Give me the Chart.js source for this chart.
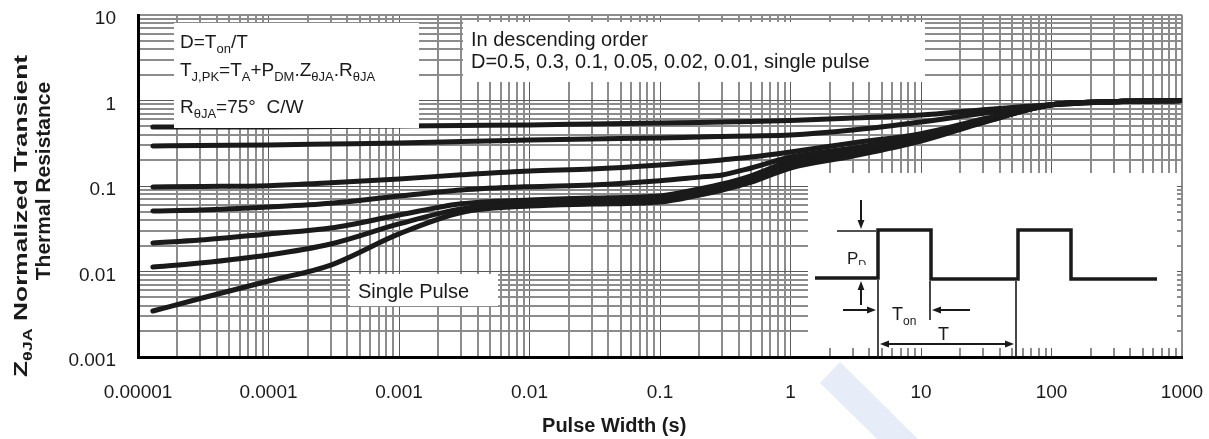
<!DOCTYPE html>
<html>
<head>
<meta charset="utf-8">
<script src="https://cdn.jsdelivr.net/npm/chart.js@4.4.1/dist/chart.umd.min.js"></script>
<style>
  html, body { margin: 0; background: #fff; }
  #wrap { width: 1209px; height: 439px; }
</style>
</head>
<body>
<div id="wrap"><canvas id="chart"></canvas></div>
<script>
// Pulse width (s) sample points
const pulseWidths = [1.3e-5, 3e-5, 1e-4, 3e-4, 1e-3, 3e-3, 1e-2, 3e-2, 0.1, 0.2, 0.3, 0.5, 1, 3, 10, 30, 100, 300, 1000]

// Normalized transient thermal resistance, one array per duty cycle
const zD050 = [0.49, 0.49, 0.49, 0.497, 0.503, 0.51, 0.517, 0.531, 0.546, 0.553, 0.561, 0.568, 0.584, 0.624, 0.676, 0.78, 0.89, 0.97, 1.0]
const zD030 = [0.294, 0.298, 0.302, 0.31, 0.319, 0.331, 0.345, 0.355, 0.364, 0.374, 0.379, 0.385, 0.395, 0.452, 0.561, 0.71, 0.89, 0.97, 1.0]
const zD010 = [0.0973, 0.0986, 0.101, 0.109, 0.121, 0.135, 0.15, 0.158, 0.176, 0.191, 0.202, 0.218, 0.25, 0.319, 0.41, 0.608, 0.89, 0.97, 1.0]
const zD005 = [0.051, 0.0524, 0.0568, 0.0628, 0.0764, 0.0898, 0.0982, 0.1028, 0.1153, 0.127, 0.1346, 0.1625, 0.218, 0.278, 0.38, 0.584, 0.89, 0.97, 1.0]
const zD002 = [0.0216, 0.0233, 0.0275, 0.0323, 0.0458, 0.062, 0.0686, 0.0724, 0.0764, 0.0923, 0.1054, 0.1316, 0.196, 0.264, 0.364, 0.568, 0.89, 0.97, 1.0]
const zD001 = [0.0113, 0.01257, 0.0156, 0.021, 0.036, 0.054, 0.0633, 0.0676, 0.0705, 0.0851, 0.0973, 0.121, 0.178, 0.243, 0.35, 0.561, 0.89, 0.97, 1.0]
const zSingle = [0.00345, 0.00483, 0.00774, 0.0119, 0.0275, 0.049, 0.0583, 0.0615, 0.065, 0.0785, 0.0898, 0.111, 0.1625, 0.224, 0.336, 0.553, 0.89, 0.97, 1.0]

const seriesLabels = ["D=0.5", "D=0.3", "D=0.1", "D=0.05", "D=0.02", "D=0.01", "Single pulse"]
const seriesValues = [zD050, zD030, zD010, zD005, zD002, zD001, zSingle]

// Axis decades, labels and minor grid steps
const xDecades = [1e-5, 1e-4, 1e-3, 1e-2, 1e-1, 1, 10, 100, 1000]
const xTickLabels = ["0.00001", "0.0001", "0.001", "0.01", "0.1", "1", "10", "100", "1000"]
const yDecades = [0.001, 0.01, 0.1, 1, 10]
const yTickLabels = ["0.001", "0.01", "0.1", "1", "10"]
const minorSteps = [1, 2, 3, 4, 5, 6, 7, 8, 9]

const fontFamily = "'Liberation Sans', Arial, Helvetica, sans-serif"
const ink = "#1a1a1a"

const gridTicks = (decades) => {
  const ticks = []
  decades.forEach((decade, i) => {
    const steps = i === decades.length - 1 ? [1] : minorSteps
    steps.forEach((m) => ticks.push({value: decade * m, major: m === 1}))
  })
  return ticks
}

const decadeLabel = (decades, labels) => (value) => {
  const i = decades.findIndex((d) => Math.abs(Math.log10(value / d)) < 1e-6)
  return i >= 0 ? labels[i] : ""
}

const isInnerMajor = ({tick, index, scale}) => tick && tick.major && index !== scale.ticks.length - 1
const gridColor = (context) => (isInnerMajor(context) ? "#5a5a5a" : "#8c8c8c")
const gridWidth = (context) => (isInnerMajor(context) ? 1 : 2)

const drawRich = (ctx, parts, x, y, size, weight = "normal") => {
  let cursor = x
  parts.forEach(([text, sub]) => {
    const fs = sub ? Math.round(size * 0.66) : size
    ctx.font = `${weight} ${fs}px ${fontFamily}`
    ctx.fillText(text, cursor, sub ? y + size * 0.25 : y)
    cursor += ctx.measureText(text).width
  })
  return cursor - x
}

const measureRich = (ctx, parts, size, weight = "normal") =>
  parts.reduce((sum, [text, sub]) => {
    ctx.font = `${weight} ${sub ? Math.round(size * 0.66) : size}px ${fontFamily}`
    return sum + ctx.measureText(text).width
  }, 0)

const arrow = (ctx, x1, y1, x2, y2, head = 9) => {
  const a = Math.atan2(y2 - y1, x2 - x1)
  const c = Math.cos(a)
  const s = Math.sin(a)
  ctx.beginPath()
  ctx.moveTo(x1, y1)
  ctx.lineTo(x2 - head * 0.7 * c, y2 - head * 0.7 * s)
  ctx.stroke()
  ctx.beginPath()
  ctx.moveTo(x2, y2)
  ctx.lineTo(x2 - head * c + head * 0.38 * s, y2 - head * s - head * 0.38 * c)
  ctx.lineTo(x2 - head * c - head * 0.38 * s, y2 - head * s + head * 0.38 * c)
  ctx.closePath()
  ctx.fill()
}

// White label boxes over the grid, offsets from the chart area corner
const whiteBoxes = [
  [36, 8, 245, 105],
  [325, 7, 462, 60],
  [212, 259, 148, 32],
  [670, 158, 369, 175],
]

const annotations = {
  id: "annotations",
  afterDatasetsDraw(chart) {
    const {ctx, chartArea: ca} = chart
    const L = ca.left
    const T = ca.top

    ctx.save()
    ctx.fillStyle = "#fff"
    whiteBoxes.forEach(([x, y, w, h]) => ctx.fillRect(L + x, T + y, w, h))

    ctx.fillStyle = ink
    ctx.textBaseline = "alphabetic"
    ctx.textAlign = "left"

    // Formula box
    drawRich(ctx, [["D=T"], ["on", true], ["/T"]], L + 42, T + 33, 19)
    drawRich(ctx, [["T"], ["J,PK", true], ["=T"], ["A", true], ["+P"], ["DM", true], [".Z"], ["\u03b8JA", true], [".R"], ["\u03b8JA", true]], L + 42, T + 61, 19)
    drawRich(ctx, [["R"], ["\u03b8JA", true], ["=75\u00b0  C/W"]], L + 42, T + 98, 19)

    // Order note
    drawRich(ctx, [["In descending order"]], L + 333, T + 31, 20)
    drawRich(ctx, [["D=0.5, 0.3, 0.1, 0.05, 0.02, 0.01, single pulse"]], L + 333, T + 53, 20)

    drawRich(ctx, [["Single Pulse"]], L + 220, T + 283, 20)

    // Pulse train inset
    ctx.strokeStyle = ink
    ctx.lineWidth = 3.5
    ctx.lineJoin = "miter"
    ctx.beginPath()
    ctx.moveTo(L + 677, T + 263)
    ctx.lineTo(L + 740, T + 263)
    ctx.lineTo(L + 740, T + 215)
    ctx.lineTo(L + 793, T + 215)
    ctx.lineTo(L + 793, T + 264)
    ctx.lineTo(L + 880, T + 264)
    ctx.lineTo(L + 880, T + 215)
    ctx.lineTo(L + 933, T + 215)
    ctx.lineTo(L + 933, T + 264)
    ctx.lineTo(L + 1019, T + 264)
    ctx.stroke()

    ctx.lineWidth = 1.6
    ctx.beginPath()
    ctx.moveTo(L + 699, T + 216)
    ctx.lineTo(L + 738, T + 216)
    ctx.moveTo(L + 740, T + 265)
    ctx.lineTo(L + 740, T + 342)
    ctx.moveTo(L + 792, T + 266)
    ctx.lineTo(L + 792, T + 305)
    ctx.moveTo(L + 878, T + 266)
    ctx.lineTo(L + 878, T + 342)
    ctx.stroke()

    ctx.lineWidth = 2
    arrow(ctx, L + 723, T + 185, L + 723, T + 214)
    arrow(ctx, L + 723, T + 290, L + 723, T + 266)
    arrow(ctx, L + 705, T + 295, L + 738, T + 295)
    arrow(ctx, L + 832, T + 295, L + 794, T + 295)
    arrow(ctx, L + 808, T + 329, L + 742, T + 329)
    arrow(ctx, L + 808, T + 329, L + 876, T + 329)

    ctx.save()
    ctx.beginPath()
    ctx.rect(L + 700, T + 230, 40, 20)
    ctx.clip()
    drawRich(ctx, [["P"], ["D", true]], L + 709, T + 249, 17)
    ctx.restore()
    drawRich(ctx, [["T"], ["on", true]], L + 754, T + 305, 18)
    drawRich(ctx, [["T"]], L + 800, T + 325, 18)
    ctx.restore()
  },
  afterDraw(chart) {
    const {ctx, width} = chart

    // faint watermark stroke below the axis
    ctx.save()
    ctx.fillStyle = "#e6ecf8"
    ctx.beginPath()
    ctx.moveTo(820, 383)
    ctx.lineTo(840, 362)
    ctx.lineTo(918, 439)
    ctx.lineTo(877, 439)
    ctx.closePath()
    ctx.fill()
    ctx.restore()

    ctx.save()
    ctx.fillStyle = ink
    ctx.textBaseline = "alphabetic"
    ctx.textAlign = "center"
    ctx.font = `bold 20px ${fontFamily}`
    ctx.fillText("Pulse Width (s)", width * 0.508, 432)
    ctx.restore()

    // y title, first line stretched along its run like the reference
    const titleParts = [["Z"], ["\u03b8JA", true], [" Normalized Transient"]]
    const natural = measureRich(ctx, titleParts, 19, "bold")
    ctx.save()
    ctx.fillStyle = ink
    ctx.textAlign = "left"
    ctx.textBaseline = "alphabetic"
    ctx.translate(27, 377)
    ctx.rotate(-Math.PI / 2)
    ctx.scale(322 / natural, 1)
    drawRich(ctx, titleParts, 0, 0, 19, "bold")
    ctx.restore()

    ctx.save()
    ctx.fillStyle = ink
    ctx.textAlign = "center"
    ctx.font = `bold 21px ${fontFamily}`
    ctx.translate(50, 181)
    ctx.rotate(-Math.PI / 2)
    ctx.fillText("Thermal Resistance", 0, 0)
    ctx.restore()
  },
}

new Chart(document.getElementById("chart"), {
  type: "line",
  data: {
    datasets: seriesValues.map((values, i) => ({
      label: seriesLabels[i],
      data: values.map((z, j) => ({x: pulseWidths[j], y: z})),
      borderColor: ink,
      borderWidth: 5,
      borderCapStyle: "round",
      pointRadius: 0,
      fill: false,
      cubicInterpolationMode: "monotone",
    })),
  },
  options: {
    responsive: true,
    maintainAspectRatio: false,
    animation: false,
    layout: {padding: {top: 15, right: 27, left: 0, bottom: 0}},
    plugins: {
      legend: {display: false},
      tooltip: {enabled: false},
    },
    scales: {
      x: {
        type: "logarithmic",
        min: 1e-5,
        max: 1000,
        afterBuildTicks: (scale) => { scale.ticks = gridTicks(xDecades) },
        afterFit: (scale) => {
          scale.height = 82
          scale.paddingLeft = 0
          scale.paddingRight = 0
        },
        grid: {color: gridColor, lineWidth: gridWidth, drawTicks: false},
        border: {display: true, color: "#000", width: 3},
        ticks: {
          autoSkip: false,
          maxRotation: 0,
          padding: 24,
          color: ink,
          font: {family: fontFamily, size: 19},
          callback: decadeLabel(xDecades, xTickLabels),
        },
      },
      y: {
        type: "logarithmic",
        min: 0.001,
        max: 10,
        afterBuildTicks: (scale) => { scale.ticks = gridTicks(yDecades) },
        afterFit: (scale) => {
          scale.width = 138
          scale.paddingTop = 0
          scale.paddingBottom = 0
        },
        grid: {color: gridColor, lineWidth: gridWidth, drawTicks: false},
        border: {display: true, color: "#000", width: 3},
        ticks: {
          autoSkip: false,
          padding: 22,
          labelOffset: 4,
          color: ink,
          font: {family: fontFamily, size: 19},
          callback: decadeLabel(yDecades, yTickLabels),
        },
      },
    },
  },
  plugins: [annotations],
})
</script>
</body>
</html>
